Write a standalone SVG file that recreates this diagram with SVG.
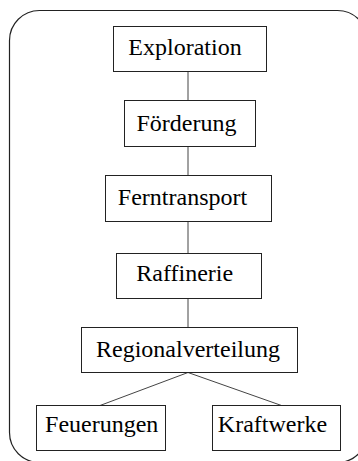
<svg xmlns="http://www.w3.org/2000/svg" width="358" height="461" viewBox="0 0 358 461">
<style>
.box{fill:#fff;stroke:#222;stroke-width:1}
.lbl{font-family:"Liberation Serif","Times New Roman",serif;font-size:24px;fill:#000;text-anchor:middle}
.con{stroke:#444;stroke-width:1;fill:none}
</style>
<rect x="9.5" y="10.5" width="358" height="452" rx="30" ry="30" fill="#fff" stroke="#222" stroke-width="1.2"/>
<g id="connectors">
<line class="con" x1="188" y1="71.5" x2="188" y2="100.5"/>
<line class="con" x1="188" y1="146.5" x2="188" y2="175.5"/>
<line class="con" x1="188" y1="221.5" x2="188" y2="253.5"/>
<line class="con" x1="188" y1="298.5" x2="188" y2="327.5"/>
<line class="con" x1="188" y1="372.5" x2="100" y2="405.5"/>
<line class="con" x1="188" y1="372.5" x2="281.5" y2="405.5"/>
</g>
<g id="exploration"><rect class="box" x="113.5" y="26.5" width="153" height="45"/><text class="lbl" x="185" y="54.5">Exploration</text></g>
<g id="foerderung"><rect class="box" x="124.5" y="100.5" width="131" height="46"/><text class="lbl" x="186.5" y="131">Förderung</text></g>
<g id="ferntransport"><rect class="box" x="105.5" y="175.5" width="166" height="46"/><text class="lbl" x="182.5" y="205">Ferntransport</text></g>
<g id="raffinerie"><rect class="box" x="116.5" y="253.5" width="145" height="45"/><text class="lbl" x="184.7" y="281">Raffinerie</text></g>
<g id="regionalverteilung"><rect class="box" x="81.5" y="327.5" width="216" height="45"/><text class="lbl" x="188" y="356.7">Regionalverteilung</text></g>
<g id="feuerungen"><rect class="box" x="36.5" y="405.5" width="129" height="45"/><text class="lbl" x="101.7" y="431.7">Feuerungen</text></g>
<g id="kraftwerke"><rect class="box" x="212.5" y="405.5" width="128" height="45"/><text class="lbl" x="272.5" y="431.7">Kraftwerke</text></g>
</svg>
